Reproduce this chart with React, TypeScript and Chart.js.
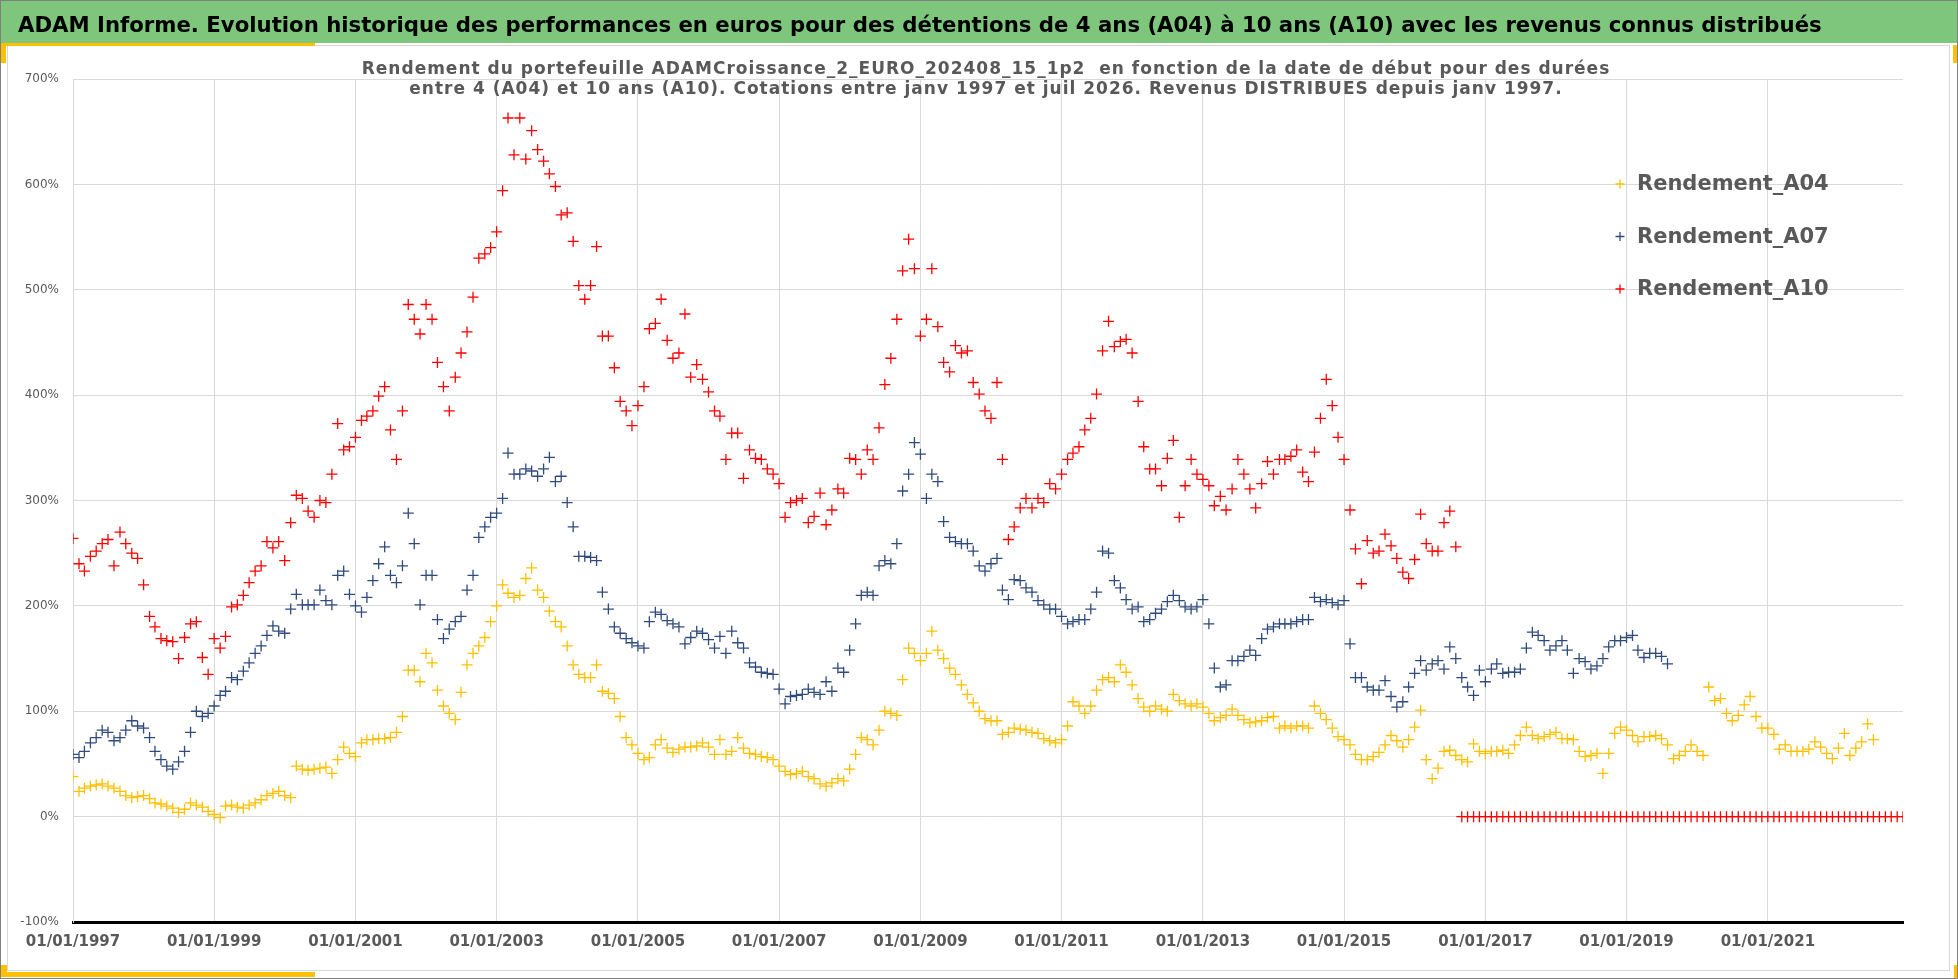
import React, { useEffect, useLayoutEffect, useRef } from 'react';
import { Chart, registerables } from 'chart.js';

Chart.register(...registerables);

// ---------- DATA (monthly readings, % return, first month = Jan 1997) ----------
const START_YEAR = 1997;

const SERIES_LABELS = ['Rendement_A04', 'Rendement_A07', 'Rendement_A10'];

const RENDEMENT_A04 = [
  38, 24, 27, 29, 30, 31, 29, 27, 24, 20, 18, 19,
  20, 17, 13, 12, 10, 8, 4, 7, 13, 11, 9, 5,
  2, -1, 10, 11, 9, 8, 11, 13, 16, 20, 22, 24,
  20, 18, 48, 45, 44, 45, 46, 47, 41, 54, 66, 60,
  57, 70, 73, 73, 74, 74, 75, 80, 95, 139, 139, 128,
  155, 146, 120, 105, 98, 92, 118, 144, 155, 162, 170, 185,
  200, 220, 212, 208, 210, 226, 236, 215, 208, 195, 185, 180,
  162, 144, 135, 132, 132, 144, 119, 117, 112, 95, 75, 68,
  60, 54, 56, 68, 73, 65, 61, 64, 66, 66, 67, 70,
  66, 59, 73, 59, 62, 75, 65, 60, 59, 57, 56, 54,
  48, 43, 40, 41, 43, 38, 36, 31, 29, 32, 36, 34,
  45, 59, 75, 73, 68, 82, 100, 98, 96, 130, 160, 155,
  148, 155, 176, 158, 150, 141, 135, 125, 116, 108, 100, 93,
  91, 91, 78, 80, 84, 83, 82, 80, 79, 74, 72, 70,
  73, 86, 109, 105, 98, 105, 120, 130, 132, 128, 144, 137,
  125, 112, 104, 100, 105, 102, 100, 116, 110, 107, 105, 107,
  104, 98, 91, 94, 96, 102, 96, 92, 89, 90, 91, 94,
  95, 84, 86, 84, 86, 86, 84, 105, 98, 92, 84, 76,
  73, 68, 59, 54, 54, 57, 61, 68, 77, 72, 66, 73,
  85, 101, 54, 36, 46, 62, 63, 58, 54, 52, 69, 62,
  60, 62, 62, 63, 60, 68, 77, 85, 77, 74, 76, 78,
  80, 74, 74, 73, 62, 57, 58, 60, 41, 60, 79, 85,
  82, 77, 71, 76, 76, 77, 74, 68, 55, 58, 62, 68,
  62, 58, 123, 110, 112, 98, 91, 96, 106, 114, 95, 84,
  84, 78, 64, 68, 62, 62, 62, 64, 71, 66, 60, 55,
  65, 79, 58, 65, 71, 88, 73,
];

const RENDEMENT_A07 = [
  59, 56, 62, 70, 75, 82, 80, 72, 75, 82, 91, 86,
  84, 75, 62, 54, 48, 45, 52, 62, 80, 100, 95, 98,
  105, 115, 119, 132, 130, 138, 146, 155, 162, 172, 181, 176,
  174, 197, 211, 201, 201, 201, 215, 205, 201, 229, 233, 211,
  200, 194, 208, 224, 240, 256, 229, 222, 238, 288, 259, 201,
  229, 229, 187, 169, 178, 185, 190, 215, 229, 265, 275, 284,
  288, 302, 345, 325, 325, 330, 328, 323, 330, 341, 318, 323,
  298, 275, 247, 247, 246, 243, 213, 197, 180, 174, 169, 165,
  162, 160, 185, 194, 192, 186, 183, 180, 164, 170, 176, 174,
  168, 160, 171, 155, 176, 165, 160, 146, 142, 137, 136, 135,
  121, 107, 114, 115, 116, 121, 118, 116, 128, 119, 141, 137,
  158, 183, 210, 213, 210, 238, 243, 240, 259, 309, 325, 355,
  344, 302, 325, 318, 280, 265, 261, 259, 259, 252, 238, 233,
  240, 245, 215, 206, 225, 224, 217, 213, 205, 201, 197, 197,
  190, 183, 185, 187, 187, 197, 213, 252, 250, 224, 217, 206,
  197, 199, 185, 187, 193, 197, 204, 210, 205, 199, 197, 199,
  206, 183, 141, 123, 125, 148, 148, 152, 158, 153, 169, 178,
  180, 183, 183, 183, 185, 187, 187, 208, 204, 206, 203, 201,
  205, 164, 132, 132, 123, 120, 120, 129, 114, 104, 109, 123,
  136, 148, 139, 145, 148, 140, 161, 150, 132, 123, 115, 139,
  128, 140, 145, 136, 137, 137, 140, 160, 175, 172, 167, 158,
  162, 167, 158, 136, 150, 147, 140, 143, 150, 161, 167, 167,
  170, 172, 158, 151, 155, 155, 152, 145,
];

const RENDEMENT_A10 = [
  264, 240, 233, 247, 252, 259, 263, 238, 270, 259, 250, 245,
  220, 190, 180, 169, 167, 166, 150, 170, 183, 185, 151, 135,
  169, 160, 171, 199, 201, 210, 222, 233, 238, 261, 255, 261,
  243, 279, 305, 302, 290, 284, 300, 298, 325, 373, 348, 351,
  360, 376, 380, 385, 399, 408, 367, 339, 385, 486, 472, 458,
  486, 472, 431, 408, 385, 417, 440, 460, 493, 530, 534, 540,
  555, 594, 663, 628, 663, 624, 651, 633, 622, 610, 598, 571,
  573, 546, 504, 491, 504, 541, 456, 456, 426, 394, 385, 371,
  390, 408, 463, 468, 491, 452, 435, 440, 477, 417, 429, 415,
  403, 385, 380, 339, 364, 364, 321, 348, 340, 339, 330, 325,
  316, 284, 298, 300, 302, 279, 285, 307, 277, 291, 311, 307,
  340, 339, 325, 348, 339, 369, 410, 435, 472, 518, 548, 520,
  456, 472, 520, 465, 431, 422, 447, 440, 442, 412, 401, 385,
  378, 412, 339, 263, 275, 293, 302, 293, 302, 298, 316, 311,
  325, 339, 345, 351, 367, 378, 401, 442, 470, 446, 451, 453,
  440, 394, 351, 330, 330, 314, 340, 357, 284, 314, 339, 325,
  320, 314, 295, 304, 291, 311, 339, 325, 311, 293, 316, 337,
  325, 339, 339, 342, 348, 327, 318, 346, 378, 415, 390, 360,
  339, 291, 254, 221, 262, 250, 252, 268, 257, 245, 232, 226,
  244, 287, 259, 252, 252, 279, 290, 256, 0, 0, 0, 0,
  0, 0, 0, 0, 0, 0, 0, 0, 0, 0, 0, 0,
  0, 0, 0, 0, 0, 0, 0, 0, 0, 0, 0, 0,
  0, 0, 0, 0, 0, 0, 0, 0, 0, 0, 0, 0,
  0, 0, 0, 0, 0, 0, 0, 0, 0, 0, 0, 0,
  0, 0, 0, 0, 0, 0, 0, 0, 0, 0, 0, 0,
  0, 0, 0, 0, 0, 0, 0, 0, 0, 0, 0, 0,
];

const TICK_YEARS = [1997, 1999, 2001, 2003, 2005, 2007, 2009, 2011, 2013, 2015, 2017, 2019, 2021];
const TICK_LABELS = [
  '01/01/1997', '01/01/1999', '01/01/2001', '01/01/2003', '01/01/2005', '01/01/2007', '01/01/2009',
  '01/01/2011', '01/01/2013', '01/01/2015', '01/01/2017', '01/01/2019', '01/01/2021',
];

const HEADER_TITLE =
  'ADAM Informe. Evolution historique des performances en euros pour des détentions de 4 ans (A04) à 10 ans (A10) avec les revenus connus distribués';
const SUBTITLE_LINES = [
  'Rendement du portefeuille ADAMCroissance_2_EURO_202408_15_1p2  en fonction de la date de début pour des durées',
  'entre 4 (A04) et 10 ans (A10). Cotations entre janv 1997 et juil 2026. Revenus DISTRIBUES depuis janv 1997.',
];

// ---------- STYLE ----------
const COLORS = ['#FFC000', '#2F4B7C', '#FF0000'];
const FONT = '"DejaVu Sans", sans-serif';
const GRID = '#D9D9D9';
const TEXT_GRAY = '#595959';
const HEADER_TEXT_WIDTH = 1805;

const DAY = 86400000;
const monthX = (i: number) => Date.UTC(START_YEAR, i, 1) / DAY;
const toPoints = (vals: number[]) => vals.map((v, i) => ({ x: monthX(i), y: v }));

const legendPlugin = {
  id: 'insideLegend',
  afterDatasetsDraw(chart: any) {
    const { ctx } = chart;
    ctx.save();
    chart.data.datasets.forEach((ds: any, i: number) => {
      const x = 1620;
      const y = 184 + i * 52.5;
      ctx.strokeStyle = ds.borderColor;
      ctx.lineWidth = 1.3;
      ctx.beginPath();
      ctx.moveTo(x - 4.5, y);
      ctx.lineTo(x + 4.5, y);
      ctx.moveTo(x, y - 4.5);
      ctx.lineTo(x, y + 4.5);
      ctx.stroke();
      ctx.fillStyle = TEXT_GRAY;
      ctx.font = `bold 21px ${FONT}`;
      ctx.textBaseline = 'middle';
      ctx.textAlign = 'left';
      ctx.fillText(ds.label, x + 17, y + 1);
    });
    ctx.restore();
  },
};

export default function App() {
  const canvasRef = useRef<HTMLCanvasElement>(null);
  const headerRef = useRef<HTMLSpanElement>(null);

  useLayoutEffect(() => {
    const el = headerRef.current;
    if (!el) return;
    el.style.fontSize = '20px';
    const w = el.getBoundingClientRect().width;
    if (w > 0) el.style.fontSize = `${(20 * HEADER_TEXT_WIDTH) / w}px`;
  }, []);

  useEffect(() => {
    document.body.style.margin = '0';
    const seriesValues = [RENDEMENT_A04, RENDEMENT_A07, RENDEMENT_A10];
    const xMin = Date.UTC(START_YEAR, 0, 1) / DAY;
    const xMax = monthX(RENDEMENT_A10.length - 1);
    const tickValues = TICK_YEARS.map((y) => Date.UTC(y, 0, 1) / DAY);

    const chart = new Chart(canvasRef.current as HTMLCanvasElement, {
      type: 'scatter',
      data: {
        datasets: seriesValues.map((vals, i) => ({
          label: SERIES_LABELS[i],
          data: toPoints(vals),
          borderColor: COLORS[i],
          backgroundColor: COLORS[i],
          pointStyle: 'cross',
          pointRadius: 5.5,
          pointBorderWidth: 1.3,
          order: 3 - i,
        })),
      },
      options: {
        responsive: false,
        animation: false,
        events: [],
        layout: { padding: { left: 0, right: 55, top: 79, bottom: 17 } },
        plugins: {
          legend: { display: false },
          tooltip: { enabled: false },
          title: { display: false },
        },
        scales: {
          x: {
            type: 'linear',
            min: xMin,
            max: xMax,
            afterBuildTicks: (axis: any) => {
              axis.ticks = tickValues.map((v) => ({ value: v }));
            },
            afterFit: (axis: any) => {
              axis.height = 40;
            },
            ticks: {
              autoSkip: false,
              maxRotation: 0,
              minRotation: 0,
              padding: 11,
              color: TEXT_GRAY,
              font: { family: FONT, size: 15, weight: 'bold' },
              callback: (value: any) => {
                const idx = tickValues.indexOf(value);
                return idx >= 0 ? TICK_LABELS[idx] : '';
              },
            },
            grid: { color: GRID, lineWidth: 1, drawTicks: false },
            border: { color: '#000000', width: 3 },
          },
          y: {
            min: -100,
            max: 700,
            afterFit: (axis: any) => {
              axis.width = 73;
            },
            ticks: {
              stepSize: 100,
              padding: 14,
              color: TEXT_GRAY,
              font: { family: FONT, size: 12 },
              callback: (value: any) => `${value}%`,
            },
            grid: { color: GRID, lineWidth: 1, drawTicks: false },
            border: { color: GRID, width: 1 },
          },
        },
      },
      plugins: [legendPlugin],
    } as any);

    return () => chart.destroy();
  }, []);

  return (
    <div
      style={{
        position: 'relative',
        width: 1958,
        height: 979,
        overflow: 'hidden',
        background: '#ffffff',
        fontFamily: FONT,
      }}
    >
      {/* inner chart frame */}
      <div
        style={{
          position: 'absolute',
          left: 7,
          top: 45,
          width: 1943,
          height: 926,
          border: '1px solid #D9D9D9',
          boxSizing: 'border-box',
        }}
      />
      <canvas
        ref={canvasRef}
        width={1958}
        height={979}
        style={{ position: 'absolute', left: 0, top: 0, width: 1958, height: 979 }}
      />
      {/* header band */}
      <div
        style={{
          position: 'absolute',
          left: 0,
          top: 0,
          width: 1958,
          height: 43,
          background: '#7DC67C',
        }}
      >
        <div
          style={{
            position: 'absolute',
            left: 18,
            top: 3,
            height: 43,
            lineHeight: '43px',
            fontWeight: 'bold',
            color: '#000',
            whiteSpace: 'pre',
          }}
        >
          <span ref={headerRef} style={{ fontSize: 20 }}>
            {HEADER_TITLE}
          </span>
        </div>
      </div>
      {/* subtitle */}
      {SUBTITLE_LINES.map((line, i) => (
        <div
          key={i}
          style={{
            position: 'absolute',
            left: 0,
            width: 1972,
            top: 58 + i * 20,
            lineHeight: '20px',
            textAlign: 'center',
            fontSize: 17,
            fontWeight: 'bold',
            letterSpacing: '1px',
            color: TEXT_GRAY,
            whiteSpace: 'pre',
          }}
        >
          {line}
        </div>
      ))}
      {/* yellow accents */}
      <div style={{ position: 'absolute', left: 0, top: 43, width: 315, height: 3, background: '#FFC000' }} />
      <div style={{ position: 'absolute', left: 0, top: 43, width: 6, height: 20, background: '#FFC000' }} />
      <div style={{ position: 'absolute', left: 1953, top: 45, width: 5, height: 18, background: '#FFC000' }} />
      <div style={{ position: 'absolute', left: 0, top: 972, width: 315, height: 5, background: '#FFC000' }} />
      <div style={{ position: 'absolute', left: 0, top: 965, width: 7, height: 12, background: '#FFC000' }} />
      <div style={{ position: 'absolute', left: 1954, top: 965, width: 4, height: 14, background: '#FFC000' }} />
      {/* outer border */}
      <div
        style={{
          position: 'absolute',
          left: 0,
          top: 0,
          width: 1958,
          height: 979,
          border: '1px solid #808080',
          boxSizing: 'border-box',
          pointerEvents: 'none',
        }}
      />
    </div>
  );
}
